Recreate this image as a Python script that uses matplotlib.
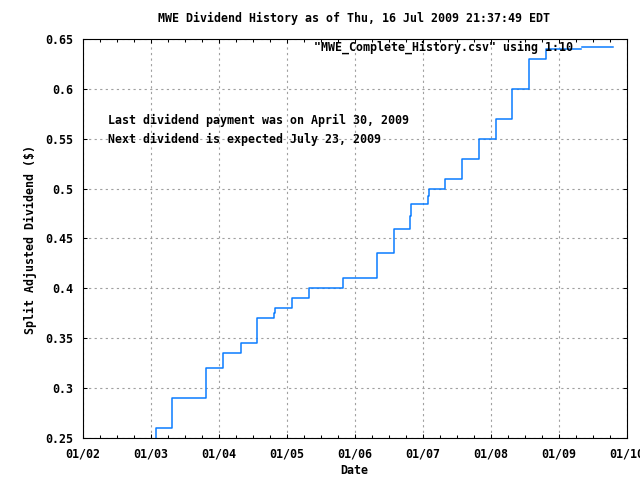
import matplotlib
matplotlib.use("Agg")
import matplotlib.pyplot as plt
import matplotlib.dates as mdates
import numpy as np
import datetime as dt

# ---- data ----
dates = ["2002-10-25", "2003-01-26", "2003-04-24", "2003-07-25", "2003-10-24",
         "2004-01-23", "2004-04-26", "2004-07-24", "2004-10-24", "2004-10-30",
         "2005-01-25", "2005-01-29", "2005-04-30", "2005-07-30", "2005-10-29",
         "2006-01-29", "2006-04-30", "2006-07-30", "2006-10-24", "2006-10-30",
         "2007-01-29", "2007-02-03", "2007-04-30", "2007-07-30", "2007-10-30",
         "2008-01-29", "2008-04-24", "2008-07-24", "2008-10-24", "2009-01-29",
         "2009-04-30"]
dividends = [0.24, 0.26, 0.29, 0.29, 0.32,
             0.335, 0.345, 0.37, 0.375, 0.38,
             0.385, 0.39, 0.40, 0.40, 0.41,
             0.41, 0.435, 0.46, 0.4725, 0.485,
             0.4925, 0.50, 0.51, 0.53, 0.55,
             0.57, 0.60, 0.63, 0.64, 0.64,
             0.64]
title = "MWE Dividend History as of Thu, 16 Jul 2009 21:37:49 EDT"
series_label = '"MWE_Complete_History.csv" using 1:10'
note1 = "Last dividend payment was on April 30, 2009"
note2 = "Next dividend is expected July 23, 2009"
x_start, x_end = "2002-01-01", "2010-01-01"
y_ticks = [0.25, 0.3, 0.35, 0.4, 0.45, 0.5, 0.55, 0.6, 0.65]
y_tick_labels = ["0.25", "0.3", "0.35", "0.4", "0.45", "0.5", "0.55", "0.6", "0.65"]

# ---- style ----
plt.rcParams['font.family'] = ['DejaVu Sans Mono', 'DejaVu Sans']
plt.rcParams['font.weight'] = 'bold'
FS = 8.4
LINE_COLOR = '#0a7cff'

W, H = 640, 480
fig = plt.figure(figsize=(W / 100, H / 100), dpi=100)
L, R, B, T = 83, 627, 438, 39
ax = fig.add_axes([L / W, 1 - B / H, (R - L) / W, (B - T) / H])

xd = [dt.datetime.strptime(d, "%Y-%m-%d") for d in dates]
ax.plot(xd, dividends, drawstyle='steps-post', color=LINE_COLOR, lw=1.1,
        label=series_label)

ax.set_xlim(dt.datetime.strptime(x_start, "%Y-%m-%d"),
            dt.datetime.strptime(x_end, "%Y-%m-%d"))
ax.set_ylim(0.25, 0.65)
ax.set_yticks(y_ticks)
ax.set_yticklabels(y_tick_labels)

ax.xaxis.set_major_locator(mdates.YearLocator())
ax.xaxis.set_major_formatter(mdates.DateFormatter("%m/%y"))
ax.xaxis.set_minor_locator(mdates.MonthLocator(bymonth=[4, 7, 10]))

ax.tick_params(which='both', direction='in', top=True, right=True,
               labelsize=FS, width=0.75)
ax.tick_params(which='major', length=3.2)
ax.tick_params(which='minor', length=2.2)
ax.tick_params(axis='x', which='major', pad=7)
ax.tick_params(axis='y', which='major', pad=7)
for lab in ax.get_xticklabels() + ax.get_yticklabels():
    lab.set_fontweight('bold')

for s in ax.spines.values():
    s.set_linewidth(0.8)
    s.set_color('black')

ax.grid(True, which='major', color='#a0a0a0', linestyle=(0, (2, 3)), lw=0.8)
ax.set_axisbelow(True)

leg = ax.legend(loc='upper right', frameon=False, markerfirst=False,
                bbox_to_anchor=(613 / W, 1 - 41 / H), bbox_transform=fig.transFigure,
                borderaxespad=0, borderpad=0, handlelength=2.7, handletextpad=0.75,
                prop={'size': FS, 'weight': 'bold'})

fig.text(108 / W, 1 - 120 / H, note1, fontsize=FS, fontweight='bold', va='center', ha='left')
fig.text(108 / W, 1 - 139 / H, note2, fontsize=FS, fontweight='bold', va='center', ha='left')

fig.text(354 / W, 1 - 18 / H, title, fontsize=FS, fontweight='bold', ha='center', va='center')
fig.text(354 / W, 1 - 471 / H, "Date", fontsize=FS, fontweight='bold', ha='center', va='center')
fig.text(30 / W, 1 - 240 / H, "Split Adjusted Dividend ($)", fontsize=FS, fontweight='bold',
         ha='center', va='center', rotation=90)

fig.savefig("out.png", dpi=100)
